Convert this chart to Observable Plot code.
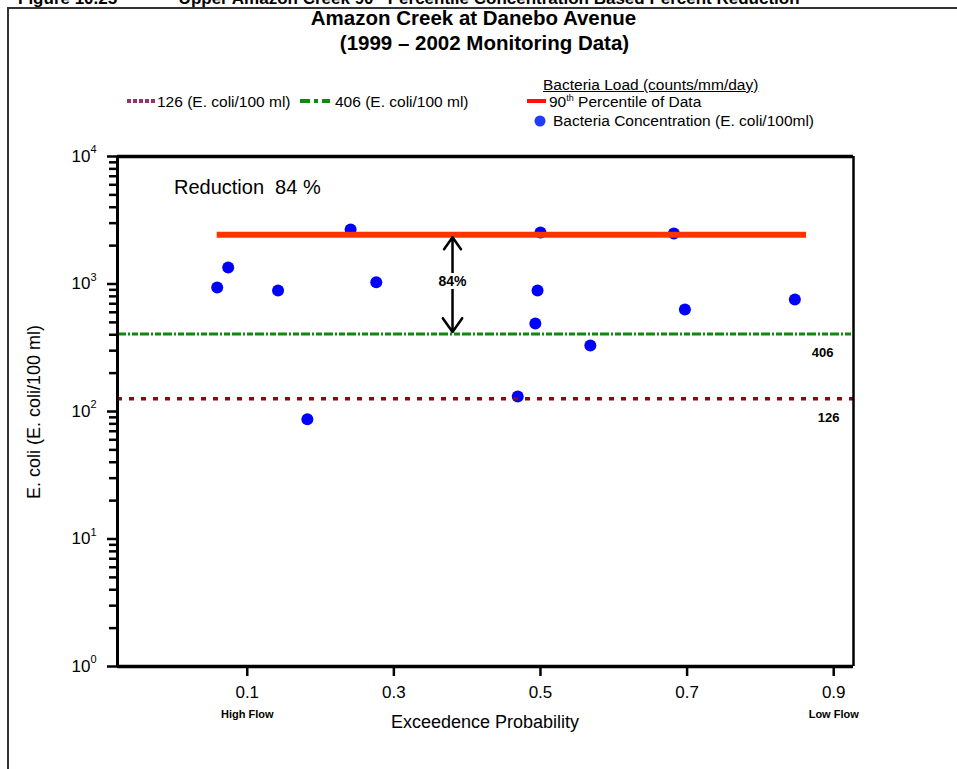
<!DOCTYPE html>
<html>
<head>
<meta charset="utf-8">
<script src="https://cdn.jsdelivr.net/npm/d3@7"></script>
<script src="https://cdn.jsdelivr.net/npm/@observablehq/plot@0.6"></script>
<style>
  html, body { margin: 0; padding: 0; background: #fff; overflow: hidden; }
  body { font-family: "Liberation Sans", Arial, sans-serif; }
  #wrap { position: relative; width: 957px; height: 769px; }
  #chart { position: absolute; left: 0; top: 0; }
  .abs { position: absolute; white-space: nowrap; color: #000; }
  #frame { position: absolute; left: 7px; top: 7px; width: 960px; height: 780px;
           border-left: 2px solid #333; border-top: 2px solid #333; }
  .title { font-weight: bold; font-size: 20.5px; width: 957px; text-align: center; left: 0; }
  .leg { font-size: 15.5px; line-height: 1; }
</style>
</head>
<body>
<div id="wrap">
  <div id="frame"></div>
  <div class="abs" style="left:18px; top:-12px; font-weight:bold; font-size:17px;">Figure 10.25&nbsp;&nbsp;&nbsp;&nbsp;&nbsp;&nbsp;&nbsp;&nbsp;&nbsp;&nbsp;&nbsp;&nbsp;&nbsp;Upper Amazon Creek 90<sup style="font-size:10px">th</sup> Percentile Concentration Based Percent Reduction</div>
  <div class="abs title" style="top:6px; left:-5px;">Amazon Creek at Danebo Avenue</div>
  <div class="abs title" style="top:31px; left:6px;">(1999 – 2002 Monitoring Data)</div>

  <!-- legend -->
  <svg class="abs" style="left:125px; top:95px;" width="34" height="12">
    <line x1="2" y1="6" x2="32" y2="6" stroke="#993366" stroke-width="4" stroke-dasharray="4,2"/>
  </svg>
  <div class="abs leg" style="left:157px; top:94px;">126 (E. coli/100 ml)</div>
  <svg class="abs" style="left:298px; top:95px;" width="34" height="12">
    <line x1="2" y1="6" x2="32" y2="6" stroke="#118811" stroke-width="4" stroke-dasharray="10,4,4,4"/>
  </svg>
  <div class="abs leg" style="left:335px; top:94px;">406 (E. coli/100 ml)</div>

  <div class="abs leg" style="left:543px; top:77px; text-decoration:underline;">Bacteria Load (counts/mm/day)</div>
  <svg class="abs" style="left:526px; top:95px;" width="22" height="12">
    <line x1="1" y1="6" x2="20" y2="6" stroke="#ff1100" stroke-width="4"/>
  </svg>
  <div class="abs leg" style="left:549px; top:94px;">90<sup style="font-size:9px; vertical-align:6px;">th</sup> Percentile of Data</div>
  <svg class="abs" style="left:533px; top:114px;" width="14" height="14">
    <circle cx="7" cy="7" r="5.5" fill="#1f3cff"/>
  </svg>
  <div class="abs leg" style="left:553px; top:113px;">Bacteria Concentration (E. coli/100ml)</div>

  <div id="chart"></div>

  <div class="abs" style="left:34px; top:412px; font-size:18px; transform: translate(-50%,-50%) rotate(-90deg);">E. coli (E. coli/100 ml)</div>
  <div class="abs" style="left:485px; top:722px; font-size:18px; transform: translate(-50%,-50%);">Exceedence Probability</div>
</div>
<script>
// ---- data ----
const exceedence = [0.059, 0.074, 0.142, 0.182, 0.241, 0.276, 0.469, 0.493, 0.496, 0.500, 0.568, 0.682, 0.697, 0.847];
const concentration = [940, 1350, 890, 87, 2680, 1030, 131, 490, 890, 2540, 330, 2490, 630, 755];
const criteria = [126, 406];
const criteriaLabels = ["126", "406"];
const criteriaLabelX = [0.893, 0.885];
const percentile90 = 2430;
const percentileSpan = [0.059, 0.863];
const reductionLabel = "Reduction\u00a0\u00a084\u00a0%";
const reductionPct = "84%";
const arrowX = 0.38;
const arrowEnds = [2330, 420];
const arrowMid = 1050;
const reductionPos = [0.0, 5700];
const xTicks = [0.1, 0.3, 0.5, 0.7, 0.9];
const yMajor = [1, 10, 100, 1000, 10000];
const yMinor = [2,3,4,5,6,7,8,9,20,30,40,50,60,70,80,90,200,300,400,500,600,700,800,900,2000,3000,4000,5000,6000,7000,8000,9000];
const flowLabels = ["High Flow", "Low Flow"];
const flowX = [0.1, 0.9];
const xDomain = [-0.077, 0.927];
const yDomain = [1, 10000];

const points = exceedence.map((x, i) => ({x, y: concentration[i]}));

const chart = Plot.plot({
  width: 957,
  height: 769,
  marginLeft: 117,
  marginRight: 104,
  marginTop: 156,
  marginBottom: 103,
  style: {fontFamily: "'Liberation Sans', Arial, sans-serif", color: "#000", background: "transparent"},
  x: {domain: xDomain},
  y: {type: "log", domain: yDomain},
  marks: [
    Plot.axisY(yMajor, {tickSize: 10, strokeWidth: 2.5, tickFormat: () => "", label: null}),
    Plot.axisY(yMinor, {tickSize: 8, strokeWidth: 2.5, tickFormat: () => "", label: null}),
    // y tick labels: base "10" with superscript exponent
    Plot.text(yMajor, {y: d => d, text: () => "10", frameAnchor: "left", dx: -27, textAnchor: "end",
      fontSize: 17}),
    Plot.text(yMajor, {y: d => d, text: d => String(Math.round(Math.log10(d))), frameAnchor: "left",
      dx: -27, dy: -7, textAnchor: "start", fontSize: 11}),
    Plot.axisX(xTicks, {tickSize: 10, tickPadding: 9, fontSize: 17, strokeWidth: 2.5,
      tickFormat: d => d.toFixed(1), label: null}),
    Plot.text(flowLabels, {x: (d, i) => flowX[i], text: d => d, frameAnchor: "bottom", dy: 51,
      fontSize: 11, fontWeight: "bold"}),
    Plot.dot(points, {x: "x", y: "y", r: 6, fill: "#0000ff", stroke: null}),
    Plot.ruleY([criteria[0]], {stroke: "#8b0a0a", strokeWidth: 3.5, strokeDasharray: "5,7"}),
    Plot.ruleY([criteria[1]], {stroke: "#118811", strokeWidth: 3, strokeDasharray: "9,2,2,2,6,2"}),
    Plot.text(criteria, {x: (d, i) => criteriaLabelX[i], y: d => d, text: (d, i) => criteriaLabels[i], dy: 19,
      fontSize: 13, fontWeight: "bold"}),
    Plot.ruleY([percentile90], {x1: percentileSpan[0], x2: percentileSpan[1], stroke: "#ff3300", strokeWidth: 6}),
    Plot.arrow(arrowEnds, {x1: arrowX, x2: arrowX, y1: arrowMid, y2: d => d,
      stroke: "#000", strokeWidth: 2.5, headLength: 11, headAngle: 70}),
    Plot.text([reductionPct], {x: arrowX, y: arrowMid, text: d => d,
      fontSize: 14, fontWeight: "bold", stroke: "#fff", strokeWidth: 6, fill: "#000"}),
    Plot.text([reductionLabel], {x: reductionPos[0], y: reductionPos[1], text: d => d, textAnchor: "start",
      fontSize: 20}),
    Plot.ruleX([xDomain[1]], {stroke: "#000", strokeWidth: 2.5}),
    Plot.ruleX([xDomain[0]], {stroke: "#000", strokeWidth: 3}),
    Plot.ruleY([yDomain[1]], {stroke: "#000", strokeWidth: 3.5}),
    Plot.ruleY([yDomain[0]], {stroke: "#000", strokeWidth: 3.5})
  ]
});
document.getElementById("chart").appendChild(chart);
</script>
</body>
</html>
